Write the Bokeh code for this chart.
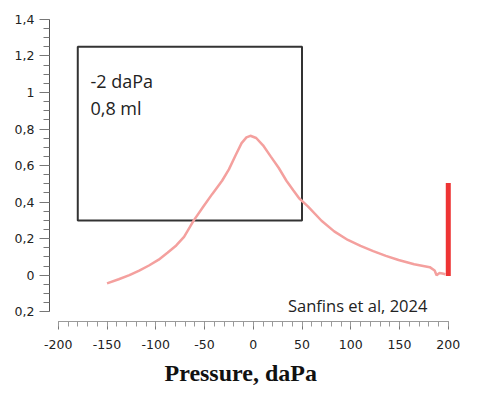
from bokeh.plotting import figure
from bokeh.models import Range1d, FixedTicker, CustomJSTickFormatter, Label, Title
from bokeh.embed import file_html
from bokeh.resources import INLINE

# ---- data ----
pressure = [-150, -138, -127, -117, -107, -97, -88, -79, -71, -61, -51, -42, -32, -25, -18,
            -12, -7, -3, 3, 10, 18, 26, 34, 41, 47, 56, 70, 83, 97, 110, 123, 136, 149,
            165, 181, 186, 188, 191, 194, 197]
volume = [-0.045, -0.022, 0.0, 0.025, 0.053, 0.085, 0.123, 0.163, 0.21, 0.30, 0.377, 0.445,
          0.517, 0.579, 0.658, 0.723, 0.754, 0.763, 0.751, 0.711, 0.649, 0.588, 0.517, 0.465,
          0.421, 0.377, 0.298, 0.24, 0.193, 0.16, 0.132, 0.106, 0.083, 0.06, 0.044, 0.026,
          0.0, 0.012, 0.009, 0.005]

marker_pressure = [200]
marker_bottom = [-0.005]
marker_top = [0.505]

box_left = [-180]
box_right = [50]
box_bottom = [0.3]
box_top = [1.25]

x_ticks = [-200, -150, -100, -50, 0, 50, 100, 150, 200]
x_tick_labels = ["-200", "-150", "-100", "-50", "0", "50", "100", "150", "200"]
x_minor = [v for v in range(-200, 201, 10)]
y_ticks = [-0.2, 0.0, 0.2, 0.4, 0.6, 0.8, 1.0, 1.2, 1.4]
y_tick_labels = ["0,2", "0", "0,2", "0,4", "0,6", "0,8", "1", "1,2", "1,4"]
y_minor = [round(-0.2 + 0.05 * i, 2) for i in range(33)]

peak_lines = ["-2 daPa", "0,8 ml"]
source_text = "Sanfins et al, 2024"
x_title = "Pressure, daPa"

LOOKUP = """
for (let i = 0; i < vals.length; i++) { if (Math.abs(vals[i] - tick) < 1e-6) return labs[i]; }
return '';
"""

p = figure(width=463, height=394, output_backend="svg", toolbar_location=None,
           x_range=Range1d(-209, 207.4), y_range=Range1d(-0.2534, 1.4268),
           min_border_left=49, min_border_right=8, min_border_top=14, min_border_bottom=73)
p.grid.visible = False
p.outline_line_color = None
p.background_fill_color = "white"
p.border_fill_color = "white"

p.quad(left=box_left, right=box_right, bottom=box_bottom, top=box_top,
       fill_color=None, line_color="#333333", line_width=2)

p.line(pressure, volume, line_color="#F4A09E", line_width=2.5)

p.segment(x0=marker_pressure, y0=marker_bottom, x1=marker_pressure, y1=marker_top,
          line_color="#EE3434", line_width=5, line_cap="butt")

xa = p.xaxis[0]
xa.ticker = FixedTicker(ticks=x_ticks, minor_ticks=x_minor)
xa.formatter = CustomJSTickFormatter(args=dict(vals=x_ticks, labs=x_tick_labels), code=LOOKUP)
xa.bounds = (-200, 200)
xa.axis_line_color = "#9a9a9a"
xa.major_tick_line_color = "#777777"
xa.minor_tick_line_color = "#999999"
xa.major_tick_in = 0
xa.major_tick_out = 8
xa.minor_tick_in = 0
xa.minor_tick_out = 5
xa.major_label_standoff = 10
xa.major_label_text_font = "DejaVu Sans"
xa.major_label_text_font_size = "12.5px"
xa.major_label_text_color = "#222222"

ya = p.yaxis[0]
ya.ticker = FixedTicker(ticks=y_ticks, minor_ticks=y_minor)
ya.bounds = (-0.2, 1.4)
ya.formatter = CustomJSTickFormatter(args=dict(vals=y_ticks, labs=y_tick_labels), code=LOOKUP)
ya.axis_line_color = "#555555"
ya.major_tick_line_color = "#777777"
ya.minor_tick_line_color = "#777777"
ya.major_tick_in = 0
ya.major_tick_out = 10
ya.minor_tick_in = 0
ya.minor_tick_out = 6
ya.major_label_standoff = 5
ya.major_label_text_font = "DejaVu Sans"
ya.major_label_text_font_size = "12.5px"
ya.major_label_text_color = "#222222"

for i, t in enumerate(peak_lines):
    p.add_layout(Label(x=-167, y=1.063 - 0.15 * i, text=t, text_font="Open Sans",
                       text_font_size="18px", text_color="#222222", text_baseline="alphabetic"))

p.add_layout(Label(x=35.6, y=-0.168, text=source_text, text_font="Open Sans",
                   text_font_size="16.5px", text_color="#222222", text_baseline="alphabetic"))

t = Title(text=x_title, align="left", offset=115, standoff=13,
          text_font="Liberation Serif", text_font_style="bold", text_font_size="24px",
          text_color="#111111")
p.add_layout(t, "below")

open("out.html", "w").write(file_html(p, INLINE))
